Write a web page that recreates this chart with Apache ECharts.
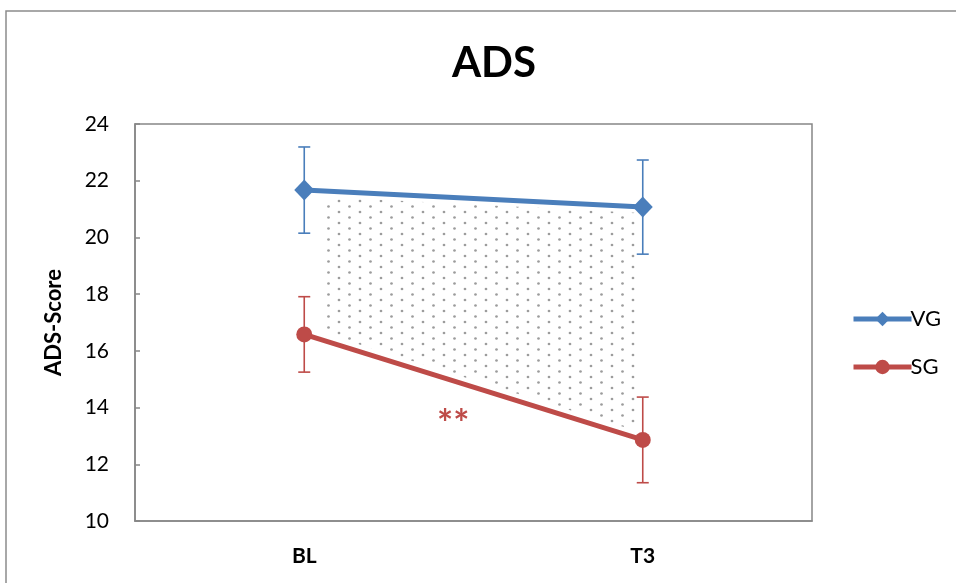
<!DOCTYPE html>
<html>
<head>
<meta charset="utf-8">
<script src="https://cdn.jsdelivr.net/npm/echarts@6/dist/echarts.min.js"></script>
<style>html,body{margin:0;padding:0;background:#fff;}#c{width:956px;height:583px;}</style>
</head>
<body>
<div id="c"></div>
<script>
const categories = ['BL', 'T3'];
const vgMean = [21.67, 21.07];
const vgErr = [1.52, 1.66];
const sgMean = [16.58, 12.86];
const sgErr = [1.33, 1.51];
const yTicks = [10, 12, 14, 16, 18, 20, 22, 24];
const sigLabel = '**';
const sigPos = [0.44, 13.4];

const FONT = 'Lato, "Open Sans", sans-serif';
const BLUE = '#4a7ebb';
const RED = '#be4b48';

// dotted pattern
const pat = document.createElement('canvas');
pat.width = 21; pat.height = 11;
const pc = pat.getContext('2d');
pc.fillStyle = '#9c9c9c';
[[3, 3], [13.5, 8.5]].forEach(p => { pc.beginPath(); pc.arc(p[0], p[1], 1.35, 0, Math.PI * 2); pc.fill(); });

function errData(mean, err) { return mean.map((m, i) => [i, m - err[i], m + err[i]]); }
function errRender(color) {
  return function (params, api) {
    const x = api.value(0);
    const lo = api.coord([x, api.value(1)]);
    const hi = api.coord([x, api.value(2)]);
    const hw = 6;
    const st = { stroke: color, lineWidth: 1.6 };
    return { type: 'group', children: [
      { type: 'line', shape: { x1: lo[0], y1: lo[1], x2: hi[0], y2: hi[1] }, style: st },
      { type: 'line', shape: { x1: lo[0] - hw, y1: lo[1], x2: lo[0] + hw, y2: lo[1] }, style: st },
      { type: 'line', shape: { x1: hi[0] - hw, y1: hi[1], x2: hi[0] + hw, y2: hi[1] }, style: st }
    ] };
  };
}

const chart = echarts.init(document.getElementById('c'));
chart.setOption({
  animation: false,
  backgroundColor: '#fff',
  title: { text: 'ADS', left: 489, top: 37, textAlign: 'center',
    textStyle: { fontFamily: FONT, fontWeight: 'bold', fontSize: 42, color: '#000' } },
  grid: { left: 135, right: 144, top: 124, bottom: 62, show: true, borderColor: '#868686', borderWidth: 1.5 },
  legend: { orient: 'vertical', left: 846, top: 303, itemGap: 26, itemWidth: 58, itemHeight: 18,
    data: ['VG', 'SG'], textStyle: { fontFamily: FONT, fontSize: 22, color: '#000', padding: [0, 0, 0, -6] },
    lineStyle: { width: 5 } },
  xAxis: { type: 'category', data: categories, boundaryGap: true,
    axisLine: { lineStyle: { color: '#868686', width: 1.5 } }, axisTick: { show: false },
    axisLabel: { fontFamily: FONT, fontWeight: 'bold', fontSize: 21, color: '#000', margin: 25 } },
  yAxis: { type: 'value', min: yTicks[0], max: yTicks[yTicks.length - 1], interval: 2,
    name: 'ADS-Score', nameLocation: 'middle', nameGap: 70, nameRotate: 90,
    nameTextStyle: { fontFamily: FONT, fontWeight: 'bold', fontSize: 22, color: '#000' },
    axisLine: { show: true, lineStyle: { color: '#868686', width: 1.5 } },
    axisTick: { show: true, inside: true, length: 5, lineStyle: { color: '#868686', width: 1.5 } },
    splitLine: { show: false },
    axisLabel: { fontFamily: FONT, fontSize: 21, color: '#000', margin: 26 } },
  graphic: [
    { type: 'polyline', shape: { points: [[6, 590], [6, 11], [960, 11]] }, style: { stroke: '#8c8c8c', lineWidth: 1.5, fill: null } }
  ],
  series: [
    { type: 'custom', name: 'fill', silent: true, z: 1,
      data: [[0]],
      renderItem: function (params, api) {
        const v0 = api.coord([0, vgMean[0]]), v1 = api.coord([1, vgMean[1]]);
        const s0 = api.coord([0, sgMean[0]]), s1 = api.coord([1, sgMean[1]]);
        const lerp = (a, b, t) => [a[0] + (b[0] - a[0]) * t, a[1] + (b[1] - a[1]) * t];
        const t0 = 0.047, t1 = 0.98;
        const a = lerp(v0, v1, t0), b = lerp(v0, v1, t1), c = lerp(s0, s1, t1), d = lerp(s0, s1, t0);
        return { type: 'polygon', shape: { points: [[a[0], a[1] + 6], [b[0], b[1] + 6], [c[0], c[1] - 7], [d[0], d[1] - 7]] },
          style: { fill: { image: pat, repeat: 'repeat' } } };
      } },
    { type: 'custom', name: 'sig', silent: true, z: 5, data: [[0]],
      renderItem: function (params, api) {
        const p0 = api.coord([0, sigPos[1]]), p1 = api.coord([1, sigPos[1]]);
        const x = p0[0] + (p1[0] - p0[0]) * sigPos[0];
        return { type: 'text', x: x, y: p0[1], style: { text: sigLabel, fill: RED, font: 'bold 38px ' + FONT, align: 'center', verticalAlign: 'middle' } };
      } },
    { type: 'custom', name: 'VGerr', z: 3, data: errData(vgMean, vgErr), renderItem: errRender(BLUE) },
    { type: 'custom', name: 'SGerr', z: 3, data: errData(sgMean, sgErr), renderItem: errRender(RED) },
    { type: 'line', name: 'VG', data: vgMean, z: 4, symbol: 'diamond', symbolSize: [20, 21],
      lineStyle: { color: BLUE, width: 5 }, itemStyle: { color: BLUE } },
    { type: 'line', name: 'SG', data: sgMean, z: 4, symbol: 'circle', symbolSize: 16,
      lineStyle: { color: RED, width: 5 }, itemStyle: { color: RED } }
  ]
});
</script>
</body>
</html>
